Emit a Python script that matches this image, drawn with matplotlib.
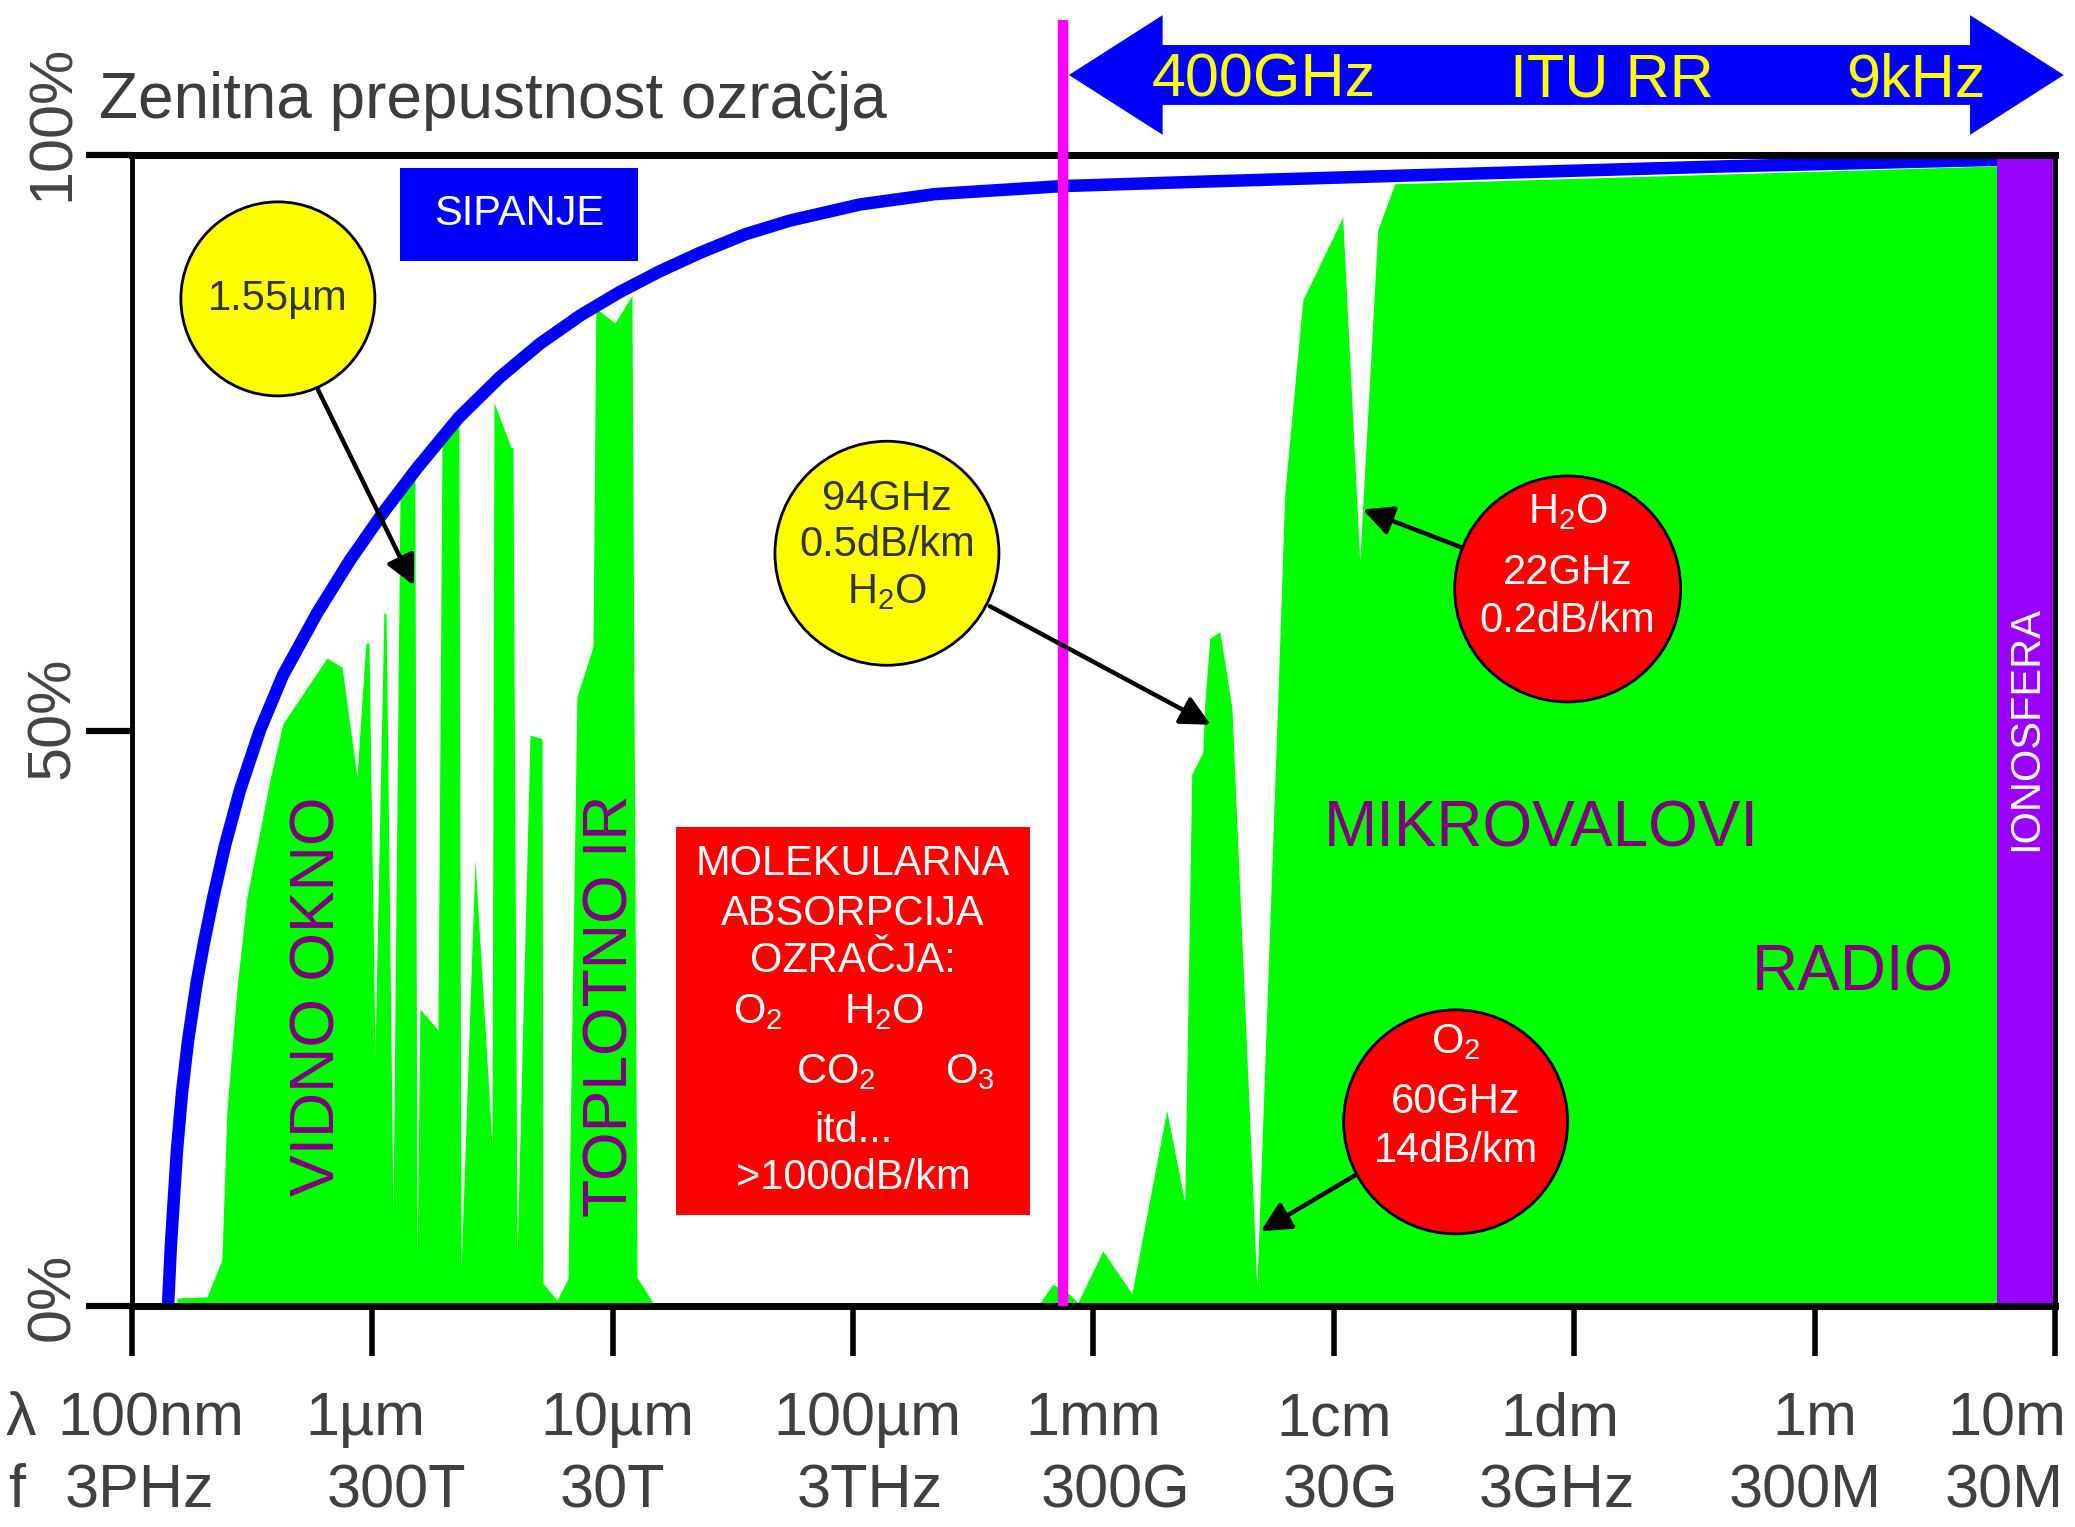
"""Zenith atmospheric transmittance vs. wavelength (Slovenian labels)."""
import matplotlib
matplotlib.use("Agg")
import matplotlib.pyplot as plt
import matplotlib.patches as patches
import numpy as np

plt.rcParams["font.family"] = ["Liberation Sans", "DejaVu Sans"]
plt.rcParams["mathtext.fontset"] = "custom"
plt.rcParams["mathtext.rm"] = "Liberation Sans"
plt.rcParams["mathtext.it"] = "Liberation Sans"
plt.rcParams["mathtext.bf"] = "Liberation Sans:bold"

C = 3e8

# x axis: log10(wavelength / m)
DECADES = [-7, -6, -5, -4, -3, -2, -1, 0, 1]
LAMBDA_LABELS = ["100nm", "1µm", "10µm", "100µm", "1mm", "1cm", "1dm", "1m", "10m"]
FREQ_LABELS = ["3PHz", "300T", "30T", "3THz", "300G", "30G", "3GHz", "300M", "30M"]
Y_TICKS = [0, 50, 100]
Y_LABELS = ["0%", "50%", "100%"]

# transmittance (%) - optical / infrared windows
OPT_X = [-6.813, -6.813, -6.688, -6.626, -6.605, -6.563, -6.522, -6.426, -6.372,
         -6.189, -6.126, -6.064, -6.027, -6.014, -5.989, -5.952, -5.943, -5.914,
         -5.885, -5.823, -5.814, -5.802, -5.727, -5.710, -5.640, -5.631, -5.573,
         -5.502, -5.494, -5.423, -5.415, -5.398, -5.344, -5.294, -5.290, -5.232,
         -5.186, -5.149, -5.082, -5.070, -4.991, -4.920, -4.899, -4.824]
OPT_T = [0, 0.7, 0.8, 4, 17, 27.7, 35.5, 45.7, 50.6,
         56.3, 55.5, 46, 57.6, 57.6, 22, 60.2, 60.2, 8,
         70.5, 72, 4, 25.8, 24, 75.5, 76.8, 3, 38.8,
         14, 78.5, 74.6, 74.6, 4.4, 49.6, 49.3, 2, 0.5,
         2.4, 52.9, 57.3, 86.7, 85.4, 87.8, 2.5, 0]

# transmittance (%) - millimetre waves, microwaves, radio
MW_X = [-3.231, -3.169, -3.098, -3.065, -2.961, -2.840, -2.695, -2.620, -2.591,
        -2.545, -2.537, -2.516, -2.474, -2.424, -2.320, -2.233, -2.204, -2.129,
        -1.963, -1.892, -1.817, -1.746, 1.0]
MW_T = [0, 1.9, 1.0, 0.3, 4.8, 1.1, 17, 9, 46.2,
        48.1, 52.3, 58, 58.6, 52, 1.6, 52.6, 70.6, 87.4,
        94.6, 64.7, 93.5, 97.5, 99.2]

# Rayleigh scattering limit (%)
SCAT_X = [-6.850, -6.838, -6.813, -6.792, -6.767, -6.730, -6.700, -6.663,
          -6.613, -6.551, -6.468, -6.372, -6.230, -6.093, -5.956, -5.814,
          -5.640, -5.469, -5.303, -5.132, -4.970, -4.804, -4.637, -4.450,
          -4.263, -3.972, -3.660, -3.127, -2.524, -1.725, -0.394, 1.0]
SCAT_T = [0, 5.3, 13.5, 18.5, 23, 28.2, 31.6, 35.4,
          40.0, 44.8, 50, 54.8, 60.2, 64.8, 68.9, 72.8,
          77.2, 80.7, 83.6, 86.1, 88.1, 89.9, 91.5, 93.1,
          94.3, 95.7, 96.6, 97.3, 97.7, 98.2, 99.0, 99.7]

ITU_TOP_HZ = 400e9
IONO_START = 0.76

GREEN = "#00ff00"
BLUE = "#0000ff"
RED = "#ff0000"
YELLOW = "#ffff00"
PURPLE_TXT = "#800080"
IONO = "#9900ff"
PINK = "#ff00ff"
GREY = "#3c3c3c"

fig = plt.figure(figsize=(20.75, 15.27), dpi=100)
ax = fig.add_axes([0.0636, 0.1447, 0.9267, 0.7538])
ax.set_xlim(-7, 1)
ax.set_ylim(0, 100)

bb = ax.get_window_extent()
PX_X = bb.width / 8.0     # pixels per decade
PX_Y = bb.height / 100.0  # pixels per percent

# transmittance
ax.fill_between(OPT_X, 0, OPT_T, color=GREEN, lw=0, zorder=1)
ax.fill_between(MW_X, 0, MW_T, color=GREEN, lw=0, zorder=1)
ax.add_patch(patches.Rectangle((IONO_START, 0), 1 - IONO_START, 100,
                               facecolor=IONO, edgecolor="none", zorder=2.2))
ax.plot(SCAT_X, SCAT_T, color=BLUE, lw=9, solid_joinstyle="round",
        solid_capstyle="butt", zorder=2)

# 400 GHz ITU limit
x_itu = np.log10(C / ITU_TOP_HZ)
ax.plot([x_itu, x_itu], [0, 111.7], color=PINK, lw=7.5, solid_capstyle="butt",
        clip_on=False, zorder=6)

# ITU RR double arrow
xl, xr, yc = -3.102, 1.037, 106.95
sh, hh, hl = 2.6, 5.2, 0.39
arrow_pts = [(xl, yc), (xl + hl, yc + hh), (xl + hl, yc + sh), (xr - hl, yc + sh),
             (xr - hl, yc + hh), (xr, yc), (xr - hl, yc - hh), (xr - hl, yc - sh),
             (xl + hl, yc - sh), (xl + hl, yc - hh)]
ax.add_patch(patches.Polygon(arrow_pts, closed=True, facecolor=BLUE,
                             edgecolor="none", clip_on=False, zorder=5))
for tx, s in [(-2.291, "400GHz"), (-0.844, "ITU RR"), (0.421, "9kHz")]:
    ax.text(tx, yc - 0.5, s, color=YELLOW, fontsize=44, ha="center", va="center",
            clip_on=False, zorder=7)

# boxes
ax.add_patch(patches.Rectangle((-5.885, 90.8), 0.99, 8.1, facecolor=BLUE,
                               edgecolor="none", zorder=4))
ax.text(-5.39, 94.9, "SIPANJE", color="white", fontsize=30, ha="center",
        va="center", zorder=7)

ax.add_patch(patches.Rectangle((-4.737, 7.9), 1.472, 33.7, facecolor=RED,
                               edgecolor="none", zorder=4))
for ty, s in [(38.4, "MOLEKULARNA"), (34.1, "ABSORPCIJA"), (30.0, "OZRAČJA:"),
              (15.2, "itd..."), (11.1, ">1000dB/km")]:
    ax.text(-4.0, ty, s, color="white", fontsize=30, ha="center", va="center", zorder=7)
for tx, ty, s in [(-4.396, 25.5, "O$_2$"), (-3.872, 25.5, "H$_2$O"),
                  (-4.072, 20.3, "CO$_2$"), (-3.514, 20.3, "O$_3$")]:
    ax.text(tx, ty, s, color="white", fontsize=30, ha="center", va="center", zorder=7)


def bubble(x, y, r_px, face, lines, ys, txt_color):
    ax.add_patch(patches.Ellipse((x, y), 2 * r_px / PX_X, 2 * r_px / PX_Y,
                                 facecolor=face, edgecolor="black", lw=2, zorder=4))
    for s, ty in zip(lines, ys):
        ax.text(x, ty, s, color=txt_color, fontsize=30, ha="center",
                va="center", zorder=7)


def pointer(tail, tip):
    ax.annotate("", xy=tip, xytext=tail, zorder=6,
                arrowprops=dict(arrowstyle="-|>", lw=3.2, color="black",
                                mutation_scale=45, shrinkA=0, shrinkB=0))


bubble(-6.393, 87.5, 97, YELLOW, ["1.55µm"], [87.5], "#333333")
pointer((-6.226, 79.6), (-5.827, 62.6))

bubble(-3.859, 65.4, 112, YELLOW, ["94GHz", "0.5dB/km", "H$_2$O"],
       [70.1, 66.1, 62.0], "#333333")
pointer((-3.431, 60.8), (-2.512, 50.5))

bubble(-1.027, 62.3, 113, RED, ["H$_2$O", "22GHz", "0.2dB/km"],
       [69.0, 63.7, 59.5], "white")
pointer((-1.468, 65.9), (-1.879, 69.2))

bubble(-1.493, 16.0, 112, RED, ["O$_2$", "60GHz", "14dB/km"],
       [22.9, 17.7, 13.5], "white")
pointer((-1.908, 11.4), (-2.304, 6.5))

# region labels
ax.text(-6.226, 26.9, "VIDNO OKNO", color=PURPLE_TXT, fontsize=45, rotation=90,
        ha="center", va="center", zorder=7)
ax.text(-5.007, 26.1, "TOPLOTNO IR", color=PURPLE_TXT, fontsize=45, rotation=90,
        ha="center", va="center", zorder=7)
ax.text(-1.135, 41.4, "MIKROVALOVI", color=PURPLE_TXT, fontsize=46,
        ha="center", va="center", zorder=7)
ax.text(0.159, 28.9, "RADIO", color=PURPLE_TXT, fontsize=46,
        ha="center", va="center", zorder=7)
ax.text(0.879, 50.2, "IONOSFERA", color="white", fontsize=30, rotation=90,
        ha="center", va="center", zorder=7)

# axes frame and ticks
for side in ["top", "bottom"]:
    ax.spines[side].set_linewidth(5)
for side in ["left", "right"]:
    ax.spines[side].set_linewidth(3.5)
ax.set_xticks(DECADES)
ax.set_xticklabels([])
ax.set_yticks(Y_TICKS)
ax.set_yticklabels([])
ax.tick_params(axis="x", direction="out", length=36, width=4)
ax.tick_params(axis="y", direction="out", length=33, width=4.5)

xtr = ax.get_xaxis_transform()
LAMBDA_SHIFT = [0.08, -0.03, 0.02, 0.06, 0.0, 0.0, -0.06, 0.0, -0.2]
FREQ_SHIFT = [0.03, 0.1, 0.0, 0.07, 0.09, 0.03, -0.07, -0.04, -0.21]
for x, s, dx in zip(DECADES, LAMBDA_LABELS, LAMBDA_SHIFT):
    ax.text(x + dx, -0.1121, s, transform=xtr, fontsize=44, color="#404040",
            ha="center", va="baseline", clip_on=False)
for x, s, dx in zip(DECADES, FREQ_LABELS, FREQ_SHIFT):
    ax.text(x + dx, -0.1746, s, transform=xtr, fontsize=44, color="#404040",
            ha="center", va="baseline", clip_on=False)
ax.text(-0.058, -0.1121, "λ", transform=ax.transAxes, fontsize=44, color="#404040",
        ha="center", va="baseline")
ax.text(-0.060, -0.1746, "f", transform=ax.transAxes, fontsize=44, color="#404040",
        ha="center", va="baseline")

ytr = ax.get_yaxis_transform()
Y_LABEL_POS = [0.8, 51.1, 102.8]
for y, s in zip(Y_LABEL_POS, Y_LABELS):
    ax.text(-0.041, y, s, transform=ytr, fontsize=44, color="#444444", rotation=90,
            ha="center", va="center", clip_on=False)

fig.text(99 / 2075, 1 - 101 / 1527, "Zenitna prepustnost ozračja", fontsize=46,
         color=GREY, ha="left", va="center")

fig.savefig("out.png", dpi=100, facecolor="white")
